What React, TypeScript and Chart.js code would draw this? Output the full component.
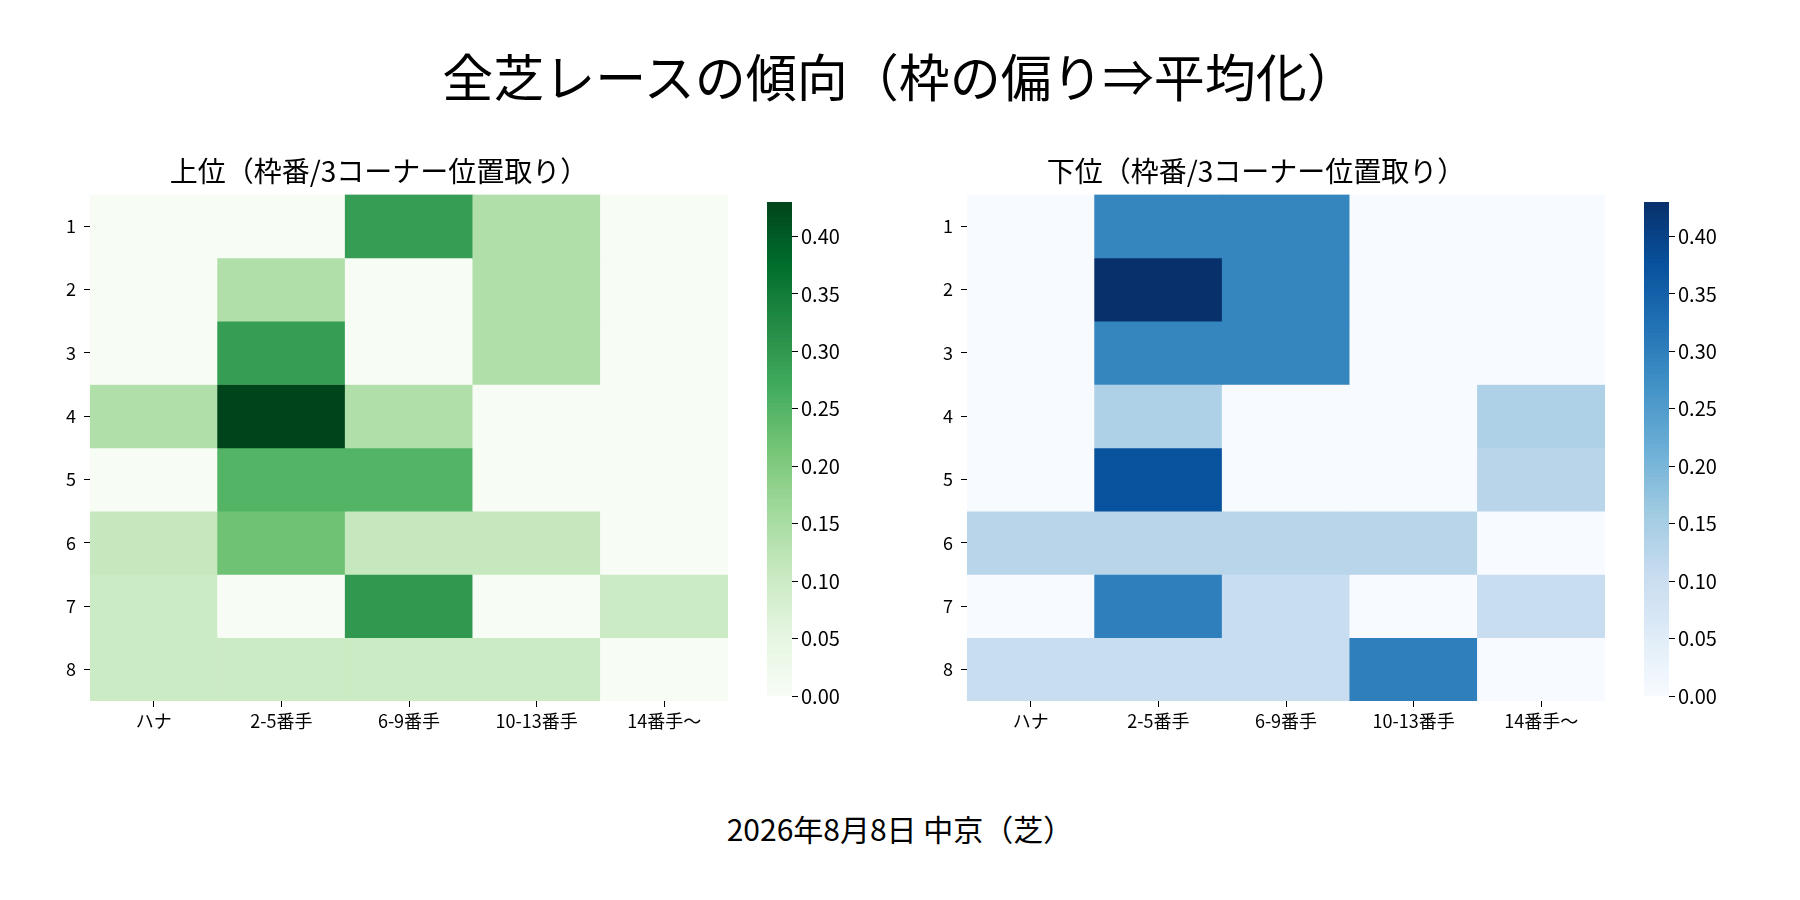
import React, { useEffect, useRef } from "react";
import { Chart, registerables } from "chart.js";
Chart.register(...registerables);

const columns = ["ハナ", "2-5番手", "6-9番手", "10-13番手", "14番手〜"];
const rows = [1, 2, 3, 4, 5, 6, 7, 8];
const topValues = [
  [0, 0, 0.29, 0.14, 0],
  [0, 0.14, 0, 0.14, 0],
  [0, 0.29, 0, 0.14, 0],
  [0.14, 0.43, 0.14, 0, 0],
  [0, 0.25, 0.25, 0, 0],
  [0.11, 0.22, 0.11, 0.11, 0],
  [0.1, 0, 0.3, 0, 0.1],
  [0.1, 0.1, 0.1, 0.1, 0],
];
const bottomValues = [
  [0, 0.29, 0.29, 0, 0],
  [0, 0.43, 0.29, 0, 0],
  [0, 0.29, 0.29, 0, 0],
  [0, 0.14, 0, 0, 0.14],
  [0, 0.375, 0, 0, 0.125],
  [0.125, 0.125, 0.125, 0.125, 0],
  [0, 0.3, 0.1, 0, 0.1],
  [0.1, 0.1, 0.1, 0.3, 0],
];
const colorbarTicks = [0, 0.05, 0.1, 0.15, 0.2, 0.25, 0.3, 0.35, 0.4];
const VMAX = 0.43;
const GREENS = ["#f7fcf5", "#e5f5e0", "#c7e9c0", "#a1d99b", "#74c476", "#41ab5d", "#238b45", "#006d2c", "#00441b"];
const BLUES = ["#f7fbff", "#deebf7", "#c6dbef", "#9ecae1", "#6baed6", "#4292c6", "#2171b5", "#08519c", "#08306b"];
const FONT = "'Noto Sans CJK JP', 'Noto Sans', sans-serif";

function hex(h: string) {
  return [1, 3, 5].map((i) => parseInt(h.slice(i, i + 2), 16));
}
function cmap(stops: string[], t: number) {
  t = Math.max(0, Math.min(1, t));
  const p = t * (stops.length - 1);
  const i = Math.min(Math.floor(p), stops.length - 2);
  const f = p - i;
  const a = hex(stops[i]), b = hex(stops[i + 1]);
  const c = a.map((v, k) => Math.round(v + (b[k] - v) * f));
  return `rgb(${c[0]},${c[1]},${c[2]})`;
}

function Heatmap({ values, stops, title, left }: { values: number[][]; stops: string[]; title: string; left: number }) {
  const ref = useRef<HTMLCanvasElement>(null);
  useEffect(() => {
    const datasets = rows.map((r, ri) => ({
      label: String(r),
      data: columns.map(() => [r - 0.5, r + 0.5]),
      backgroundColor: values[ri].map((v) => cmap(stops, v / VMAX)),
      grouped: false,
      barPercentage: 1,
      categoryPercentage: 1,
      borderWidth: 0,
    }));
    const ch = new Chart(ref.current!, {
      type: "bar",
      data: { labels: columns, datasets: datasets as any },
      options: {
        animation: false,
        responsive: false,
        layout: { padding: { right: 2 } },
        plugins: {
          legend: { display: false },
          tooltip: { enabled: false },
          title: { display: true, text: title, font: { family: FONT, size: 28, weight: "normal" }, color: "#000", padding: { top: 3, bottom: 6 } },
        },
        scales: {
          x: {
            afterFit: (s: any) => { s.height = 50; },
            grid: { display: true, offset: false, drawOnChartArea: false, tickLength: 6, color: "#000" },
            border: { display: false },
            ticks: { font: { family: FONT, size: 18 }, color: "#000", maxRotation: 0 },
          },
          y: {
            type: "linear",
            min: 0.5,
            max: 8.5,
            reverse: true,
            afterFit: (s: any) => { s.width = 60; },
            afterBuildTicks: (a: any) => { a.ticks = rows.map((v) => ({ value: v })); },
            grid: { display: true, drawOnChartArea: false, tickLength: 6, color: "#000" },
            border: { display: false },
            ticks: { font: { family: FONT, size: 18 }, color: "#000", padding: 8 },
          },
        },
      } as any,
    });
    return () => ch.destroy();
  }, []);
  return <canvas ref={ref} width={700} height={599} style={{ position: "absolute", left, top: 152 }} />;
}

function ColorBar({ stops, left }: { stops: string[]; left: number }) {
  const ref = useRef<HTMLCanvasElement>(null);
  useEffect(() => {
    const N = 120;
    const datasets = Array.from({ length: N }, (_, i) => ({
      data: [[(VMAX * i) / N, (VMAX * (i + 1)) / N + 0.0005]],
      backgroundColor: cmap(stops, (i + 0.5) / N),
      grouped: false,
      barPercentage: 1,
      categoryPercentage: 1,
      borderWidth: 0,
    }));
    const ch = new Chart(ref.current!, {
      type: "bar",
      data: { labels: [""], datasets: datasets as any },
      options: {
        animation: false,
        responsive: false,
        layout: { padding: { top: 10, bottom: 10 } },
        plugins: { legend: { display: false }, tooltip: { enabled: false } },
        scales: {
          x: { display: false },
          y: {
            position: "right",
            min: 0,
            max: VMAX,
            afterFit: (s: any) => { s.width = 70; },
            afterBuildTicks: (a: any) => { a.ticks = colorbarTicks.map((v) => ({ value: v })); },
            grid: { display: true, drawOnChartArea: false, tickLength: 6, color: "#000" },
            border: { display: false },
            ticks: { font: { family: FONT, size: 20 }, color: "#000", callback: (v: any) => Number(v).toFixed(2) },
          },
        },
      } as any,
    });
    return () => ch.destroy();
  }, []);
  return <canvas ref={ref} width={95} height={524} style={{ position: "absolute", left, top: 187 }} />;
}

export default function App() {
  return (
    <div style={{ position: "fixed", left: 0, top: 0, width: 1800, height: 900, background: "#fff", fontFamily: FONT }}>
      <div style={{ position: "absolute", top: 38, width: 1800, textAlign: "center", fontSize: 51 }}>全芝レースの傾向（枠の偏り⇒平均化）</div>
      <Heatmap values={topValues} stops={GREENS} title="上位（枠番/3コーナー位置取り）" left={30} />
      <ColorBar stops={GREENS} left={767} />
      <Heatmap values={bottomValues} stops={BLUES} title="下位（枠番/3コーナー位置取り）" left={907} />
      <ColorBar stops={BLUES} left={1644} />
      <div style={{ position: "absolute", top: 806, width: 1800, textAlign: "center", fontSize: 30 }}>2026年8月8日 中京（芝）</div>
    </div>
  );
}
